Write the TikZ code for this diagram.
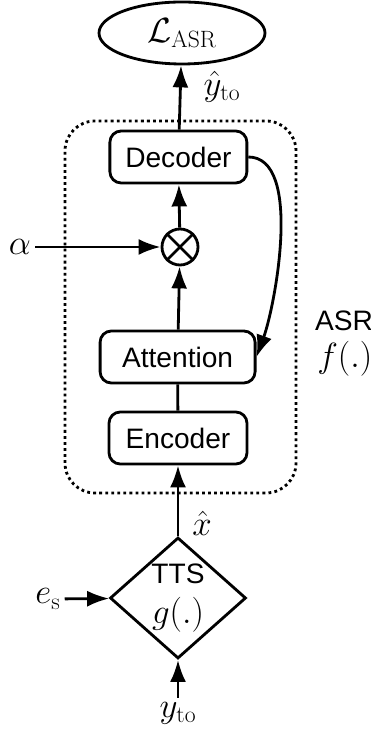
\documentclass[tikz,border=0pt]{standalone}
\usepackage{fontspec}
\setsansfont{Liberation Sans}
\usetikzlibrary{shapes.geometric,arrows.meta}

\begin{document}
\begin{tikzpicture}[
  line width=2pt,
  font=\fontsize{24}{28}\selectfont,
  block/.style={draw, rounded corners=8pt, minimum height=1.3cm, inner sep=0pt,
    font=\fontsize{20}{24}\selectfont\sffamily},
  lbl/.style={inner sep=2pt},
  arr/.style={-{Latex[length=5.5mm,width=4mm]}}
]
  \useasboundingbox (0,0) rectangle (9.275,18.275);
  % ASR part
  \draw[dash pattern=on 2pt off 2.3pt, rounded corners=0.75cm] (1.625,5.95) rectangle (7.4,15.25);
  \node[draw, ellipse, minimum width=4.15cm, minimum height=1.55cm, inner sep=0pt] (loss) at (4.55,17.45) {$\mathcal{L}_{\mathrm{ASR}}$};
  \node[block, minimum width=3.425cm] (dec) at (4.46,14.35) {Decoder};
  \node[draw, circle, minimum size=0.9cm, inner sep=0pt] (mul) at (4.5,12.1) {};
  \draw (mul.north west) -- (mul.south east);
  \draw (mul.north east) -- (mul.south west);
  \node[block, minimum width=3.875cm] (att) at (4.44,9.35) {Attention};
  \node[block, minimum width=3.45cm] (enc) at (4.45,7.325) {Encoder};
  \node[font=\fontsize{20}{24}\selectfont\sffamily] (asr) at (8.6,10.25) {ASR};
  \node[lbl] (f) at (8.62,9.3) {$f(.)$};
  % TTS part
  \node[draw, diamond, minimum width=3.4cm, minimum height=3.025cm, inner sep=0pt, align=center,
    font=\fontsize{20}{24}\selectfont\sffamily] (tts) at (4.45,3.325) {TTS\\[4pt]\fontsize{24}{28}\selectfont$g(.)$};
  % labels
  \node[lbl] (yhat) at (5.55,16.1) {$\hat{y}_{\mathrm{to}}$};
  \node[lbl] (alpha) at (0.5,12.1) {$\alpha$};
  \node[lbl] (xhat) at (5.05,5.2) {$\hat{x}$};
  \node[lbl] (es) at (1.2,3.3) {$e_{\mathrm{s}}$};
  \node[lbl] (yto) at (4.45,0.45) {$y_{\mathrm{to}}$};
  % connectors
  \draw[arr] (dec) -- (loss);
  \draw[arr] (mul) -- (dec);
  \draw[arr] (att) -- (mul);
  \draw (enc) -- (att);
  \draw[arr] (alpha) -- (mul);
  \draw[arr] (dec.east) to[out=0, in=70, looseness=0.7] (att.east);
  \draw[arr] (tts) -- (enc);
  \draw[arr] (es) -- (tts);
  \draw[arr] (yto) -- (tts);
\end{tikzpicture}
\end{document}
